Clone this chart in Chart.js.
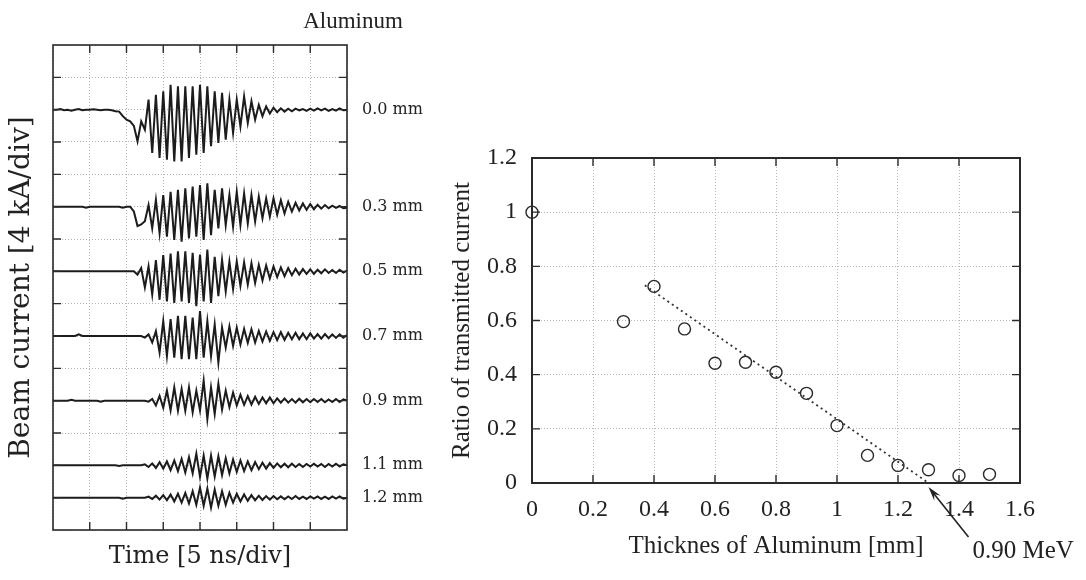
<!DOCTYPE html>
<html><head><meta charset="utf-8">
<script src="https://cdn.jsdelivr.net/npm/chart.js@4.4.1/dist/chart.umd.min.js"></script>
<style>
html,body{margin:0;padding:0;background:#fff;}
#left{position:absolute;left:0;top:0;width:706px;height:580px;}
#right{position:absolute;left:440px;top:0;width:646px;height:580px;}
</style></head><body>
<div id="left"><canvas id="c1" width="706" height="580"></canvas></div>
<div id="right"><canvas id="c2" width="646" height="580"></canvas></div>
<script>
// ---------- left panel: oscilloscope traces ----------
const times = [0.0,0.1,0.2,0.3,0.4,0.5,0.6,0.7,0.8,0.9,
  1.0,1.1,1.2,1.3,1.4,1.5,1.6,1.7,1.8,1.9,
  2.0,2.1,2.2,2.3,2.4,2.5,2.6,2.7,2.8,2.9,
  3.0,3.1,3.2,3.3,3.4,3.5,3.6,3.7,3.8,3.9,
  4.0,4.1,4.2,4.3,4.4,4.5,4.6,4.7,4.8,4.9,
  5.0,5.1,5.2,5.3,5.4,5.5,5.6,5.7,5.8,5.9,
  6.0,6.1,6.2,6.3,6.4,6.5,6.6,6.7,6.8,6.9,
  7.0,7.1,7.2,7.3,7.4,7.5,7.6,7.7,7.8,7.9,
  8.0];
const traceLabels = ['0.0 mm','0.3 mm','0.5 mm','0.7 mm','0.9 mm','1.1 mm','1.2 mm'];
const traceBaselines = [13,10,8,6,4,2,1];   // in divisions from the bottom of the screen
const trace00 = [0,0,0.02,-0.02,0,-0.03,0,0.02,-0.02,0,
  0,0.01,0,-0.02,0,0,-0.02,-0.05,-0.06,-0.2,
  -0.31,-0.36,-0.5,-0.98,-0.36,-0.62,0.31,-1.34,0.46,-1.49,
  0.57,-1.55,0.77,-1.6,0.72,-1.6,0.72,-1.49,0.72,-1.39,
  0.77,-1.34,0.72,-1.13,0.57,-1.03,0.52,-0.93,0.31,-0.72,
  0.31,-0.52,0.41,-0.41,0.26,-0.31,0.15,-0.2,0.1,-0.12,
  0.06,-0.08,0.04,-0.06,0.03,-0.05,0.03,-0.02,0.02,-0.04,
  0.03,-0.03,0.04,-0.02,0.03,-0.04,0.02,-0.03,0.04,-0.02,
  -0.01];
const trace03 = [0,0,0,0,0,0,0,0,0,-0.03,
  0,0,0,0,0,0,0,0,0,-0.03,
  0,0,-0.15,-0.6,-0.55,-0.45,0.05,-0.67,0.21,-0.82,
  0.36,-0.93,0.46,-1.03,0.52,-1.08,0.57,-0.98,0.62,-0.93,
  0.67,-1.03,0.72,-0.88,0.52,-0.67,0.57,-0.57,0.36,-0.62,
  0.46,-0.57,0.41,-0.52,0.36,-0.46,0.31,-0.36,0.26,-0.31,
  0.26,-0.25,0.2,-0.21,0.15,-0.15,0.12,-0.12,0.1,-0.1,
  0.08,-0.08,0.06,-0.06,0.05,-0.05,0.03,-0.04,0.02,-0.05,
  -0.03];
const trace05 = [0,0,0,0,0,0,0,0,0,0,
  0,0,0,0,0,0,0,0,0,0,
  0,0,0,-0.1,0.1,-0.5,0.15,-0.72,0.35,-0.88,
  0.5,-0.93,0.55,-0.98,0.62,-0.93,0.62,-0.98,0.57,-1.08,
  0.52,-0.93,0.67,-0.98,0.45,-0.77,0.36,-0.62,0.3,-0.55,
  0.31,-0.45,0.28,-0.41,0.25,-0.36,0.2,-0.28,0.18,-0.22,
  0.15,-0.18,0.12,-0.15,0.1,-0.12,0.08,-0.1,0.07,-0.08,
  0.06,-0.08,0.05,-0.06,0.06,-0.05,0.04,-0.05,0.05,-0.04,
  0.02];
const trace07 = [0,0,0,0,0,0,0,0.05,0,0,
  0,0,0,0,0,0,0,0,0,0,
  0,0,0,0,0,-0.05,0.05,-0.2,0.15,-0.51,
  0.46,-0.62,0.52,-0.67,0.62,-0.72,0.62,-0.72,0.57,-0.72,
  0.77,-0.67,0.46,-0.62,0.36,-0.82,0.26,-0.36,0.3,-0.31,
  0.26,-0.26,0.22,-0.21,0.21,-0.2,0.16,-0.17,0.14,-0.15,
  0.12,-0.13,0.12,-0.12,0.1,-0.1,0.1,-0.1,0.08,-0.1,
  0.08,-0.08,0.06,-0.08,0.06,-0.07,0.05,-0.06,0.05,-0.05,
  0.03];
const trace09 = [0,0,0,0,0,0.03,0,0,0,0,
  0,0,0,-0.03,0,0,0,0,0,0,
  0,0,0,0,0,0,-0.03,0.05,-0.15,0.15,
  -0.22,0.31,-0.3,0.41,-0.31,0.36,-0.31,0.41,-0.36,0.31,
  -0.3,0.62,-0.57,0.41,-0.41,0.52,-0.28,0.31,-0.2,0.25,
  -0.15,0.18,-0.13,0.14,-0.12,0.12,-0.1,0.1,-0.08,0.1,
  -0.08,0.07,-0.06,0.07,-0.06,0.05,-0.06,0.06,-0.05,0.05,
  -0.05,0.05,-0.04,0.05,-0.05,0.04,-0.04,0.05,-0.04,0.04,
  0];
const trace11 = [0,0,0,0,0,0,0,0,0,0,
  0,0,0,0,0,0,0,0,-0.02,0,
  0,0,0,0,0,0.03,-0.05,0.06,-0.08,0.1,
  -0.1,0.12,-0.15,0.15,-0.18,0.2,-0.22,0.25,-0.25,0.36,
  -0.36,0.3,-0.41,0.3,-0.35,0.28,-0.3,0.22,-0.25,0.18,
  -0.2,0.15,-0.18,0.12,-0.15,0.1,-0.12,0.08,-0.1,0.07,
  -0.08,0.06,-0.06,0.05,-0.06,0.05,-0.05,0.04,-0.05,0.04,
  -0.04,0.05,-0.04,0.04,-0.05,0.04,-0.04,0.05,-0.04,0.03,
  0];
const trace12 = [0,0,0,0,0,0,0,0,0,0,
  0,0,0,0,0,0,0,0,0,-0.03,
  0,0,0,0,0,0,0.03,-0.04,0.06,-0.06,
  0.08,-0.08,0.1,-0.12,0.12,-0.15,0.15,-0.18,0.2,-0.22,
  0.31,-0.25,0.28,-0.31,0.25,-0.25,0.2,-0.22,0.15,-0.15,
  0.12,-0.12,0.1,-0.1,0.08,-0.08,0.06,-0.07,0.05,-0.06,
  0.05,-0.05,0.04,-0.05,0.04,-0.04,0.05,-0.04,0.03,-0.04,
  0.04,-0.03,0.04,-0.04,0.03,-0.04,0.04,-0.03,0.04,-0.03,
  0];
const traces = [trace00, trace03, trace05, trace07, trace09, trace11, trace12];

// ---------- right panel: transmitted current ratio ----------
const thickness = [0, 0.3, 0.4, 0.5, 0.6, 0.7, 0.8, 0.9, 1.0, 1.1, 1.2, 1.3, 1.4, 1.5];
const ratio     = [1.0, 0.596, 0.726, 0.569, 0.442, 0.446, 0.409, 0.331, 0.212, 0.102, 0.065, 0.049, 0.028, 0.032];
const fitThickness = [0.37, 1.3];
const fitRatio     = [0.73, 0.0];
const thicknessTicks = [0, 0.2, 0.4, 0.6, 0.8, 1.0, 1.2, 1.4, 1.6];
const ratioTicks     = [0, 0.2, 0.4, 0.6, 0.8, 1.0, 1.2];
const cutoffThickness = 1.3;
const cutoffLabel = '0.90 MeV';

Chart.defaults.font.family = "'Liberation Serif', serif";
Chart.defaults.color = '#222';

function framePlugin(id, frameWidth, tickLen) {
  return {
    id: id,
    afterDraw(chart) {
      const {ctx, chartArea: a, scales} = chart;
      ctx.save();
      ctx.strokeStyle = '#2a2a2a';
      ctx.lineWidth = 1.4;
      ctx.beginPath();
      const sx = scales.x, sy = scales.y;
      sx.ticks.forEach(t => {
        if (t.value <= sx.min || t.value >= sx.max) return;
        const p = sx.getPixelForValue(t.value);
        ctx.moveTo(p, a.top); ctx.lineTo(p, a.top + tickLen);
        ctx.moveTo(p, a.bottom); ctx.lineTo(p, a.bottom - tickLen);
      });
      sy.ticks.forEach(t => {
        if (t.value <= sy.min || t.value >= sy.max) return;
        const p = sy.getPixelForValue(t.value);
        ctx.moveTo(a.left, p); ctx.lineTo(a.left + tickLen, p);
        ctx.moveTo(a.right, p); ctx.lineTo(a.right - tickLen, p);
      });
      ctx.stroke();
      ctx.lineWidth = frameWidth;
      ctx.strokeRect(a.left, a.top, a.right - a.left, a.bottom - a.top);
      ctx.restore();
    }
  };
}

const gridDotted = {color: '#b4b4b4', lineWidth: 1, drawTicks: false};

new Chart(document.getElementById('c1'), {
  type: 'line',
  data: {
    datasets: traces.map((vals, k) => ({
      label: traceLabels[k],
      data: times.map((t, i) => ({x: t, y: traceBaselines[k] + vals[i]})),
      borderColor: '#1c1c1c',
      borderWidth: 2,
      pointRadius: 0,
      tension: 0,
      fill: false
    }))
  },
  options: {
    responsive: false,
    animation: false,
    plugins: {
      legend: {display: false},
      tooltip: {enabled: false},
      title: {
        display: true, text: 'Aluminum', align: 'center',
        font: {family: "'Liberation Serif', serif", size: 23, weight: 'normal'},
        color: '#222', padding: {top: 8, bottom: 9.4}
      }
    },
    scales: {
      x: {
        type: 'linear', min: 0, max: 8,
        ticks: {stepSize: 1, display: false},
        grid: gridDotted, border: {display: false, dash: [1, 2]},
        title: {display: true, text: 'Time [5 ns/div]',
          font: {family: "'DejaVu Serif', serif", size: 24}, padding: {bottom: 9, top: 0}},
        afterFit(s) { s.height = 50; }
      },
      y: {
        type: 'linear', min: 0, max: 15,
        ticks: {stepSize: 1, display: false},
        grid: gridDotted, border: {display: false, dash: [1, 2]},
        title: {display: true, text: 'Beam current [4 kA/div]',
          font: {family: "'DejaVu Serif', serif", size: 28}, padding: {top: 5, bottom: 0}},
        afterFit(s) { s.width = 53; }
      },
      y2: {
        type: 'linear', position: 'right', min: 0, max: 15,
        afterBuildTicks(s) { s.ticks = traceBaselines.map(v => ({value: v})); },
        ticks: {
          autoSkip: false, padding: 15,
          font: {family: "'DejaVu Serif', serif", size: 16},
          color: '#222',
          callback: v => traceLabels[traceBaselines.indexOf(v)]
        },
        grid: {display: false, drawTicks: false},
        border: {display: false},
        afterFit(s) { s.width = 359; }
      }
    }
  },
  plugins: [framePlugin('frameL', 1.6, 8)]
});

const annotationPlugin = {
  id: 'cutoffArrow',
  afterDraw(chart) {
    const {ctx} = chart;
    const tipX = chart.scales.x.getPixelForValue(cutoffThickness);
    const tipY = chart.scales.y.getPixelForValue(0) + 4;
    const tailX = tipX + 40, tailY = tipY + 50;
    ctx.save();
    ctx.strokeStyle = '#222'; ctx.fillStyle = '#222'; ctx.lineWidth = 1.6;
    ctx.beginPath(); ctx.moveTo(tailX, tailY); ctx.lineTo(tipX + 4, tipY + 5); ctx.stroke();
    const ang = Math.atan2(tipY - tailY, tipX - tailX);
    const L = 15, w = 0.28;
    ctx.beginPath();
    ctx.moveTo(tipX, tipY);
    ctx.lineTo(tipX - L * Math.cos(ang - w), tipY - L * Math.sin(ang - w));
    ctx.lineTo(tipX - 0.6 * L * Math.cos(ang), tipY - 0.6 * L * Math.sin(ang));
    ctx.lineTo(tipX - L * Math.cos(ang + w), tipY - L * Math.sin(ang + w));
    ctx.closePath(); ctx.fill();
    ctx.font = "25px 'Liberation Serif', serif";
    ctx.textAlign = 'left'; ctx.textBaseline = 'alphabetic';
    ctx.fillText(cutoffLabel, tailX + 4, tailY + 21);
    ctx.restore();
  }
};

const fmt = v => String(+Number(v).toFixed(1));

new Chart(document.getElementById('c2'), {
  type: 'scatter',
  data: {
    datasets: [
      {
        label: 'fit',
        type: 'line',
        data: fitThickness.map((t, i) => ({x: t, y: fitRatio[i]})),
        borderColor: '#333', borderWidth: 1.8, borderDash: [2, 3.5],
        pointRadius: 0, fill: false, tension: 0
      },
      {
        label: 'Ratio of transmitted current',
        data: thickness.map((t, i) => ({x: t, y: ratio[i]})),
        pointStyle: 'circle', pointRadius: 6,
        borderColor: '#2a2a2a', borderWidth: 1.4,
        backgroundColor: 'rgba(0,0,0,0)',
        clip: false
      }
    ]
  },
  options: {
    responsive: false,
    animation: false,
    layout: {padding: {top: 158, right: 66}},
    plugins: {legend: {display: false}, tooltip: {enabled: false}},
    scales: {
      x: {
        type: 'linear', min: 0, max: 1.6,
        afterBuildTicks(s) { s.ticks = thicknessTicks.map(v => ({value: v})); },
        ticks: {padding: 12, font: {size: 24}, color: '#222', callback: fmt, maxRotation: 0, autoSkip: false},
        grid: {color: '#b8b8b8', lineWidth: 1, drawTicks: false},
        border: {display: false, dash: [1, 2]},
        title: {display: true, text: 'Thicknes of Aluminum [mm]', font: {size: 25}, padding: {top: 0, bottom: 19}},
        afterFit(s) { s.height = 97; }
      },
      y: {
        type: 'linear', min: 0, max: 1.2,
        afterBuildTicks(s) { s.ticks = ratioTicks.map(v => ({value: v})); },
        ticks: {padding: 15, font: {size: 24}, color: '#222', callback: fmt, autoSkip: false},
        grid: {color: '#b8b8b8', lineWidth: 1, drawTicks: false},
        border: {display: false, dash: [1, 2]},
        title: {display: true, text: 'Ratio of transmitted current', font: {size: 25}, padding: {top: 7, bottom: 0}},
        afterFit(s) { s.width = 92; }
      }
    }
  },
  plugins: [framePlugin('frameR', 2, 8), annotationPlugin]
});
</script>
</body></html>
